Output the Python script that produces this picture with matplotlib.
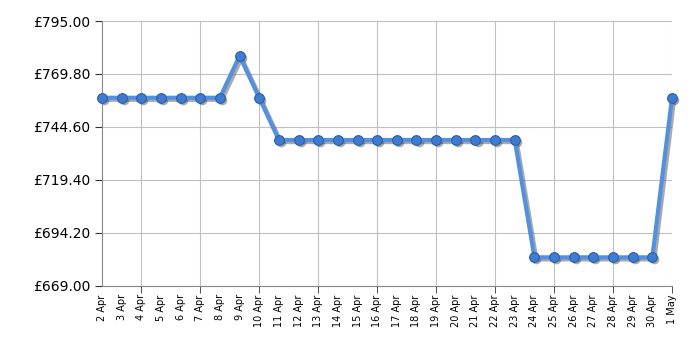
import matplotlib.pyplot as plt
import matplotlib.patheffects as pe
import matplotlib.transforms as mtransforms

# price history
dates = ['2 Apr', '3 Apr', '4 Apr', '5 Apr', '6 Apr', '7 Apr', '8 Apr', '9 Apr',
         '10 Apr', '11 Apr', '12 Apr', '13 Apr', '14 Apr', '15 Apr', '16 Apr',
         '17 Apr', '18 Apr', '19 Apr', '20 Apr', '21 Apr', '22 Apr', '23 Apr',
         '24 Apr', '25 Apr', '26 Apr', '27 Apr', '28 Apr', '29 Apr', '30 Apr', '1 May']
prices = [758.5, 758.5, 758.5, 758.5, 758.5, 758.5, 758.5, 778.4,
          758.5, 738.4, 738.4, 738.4, 738.4, 738.4, 738.4,
          738.4, 738.4, 738.4, 738.4, 738.4, 738.4, 738.4,
          682.6, 682.6, 682.6, 682.6, 682.6, 682.6, 682.6, 758.5]
y_ticks = [669.00, 694.20, 719.40, 744.60, 769.80, 795.00]

fig = plt.figure(figsize=(7, 3.5), dpi=100)
ax = fig.add_axes([0.1457, 0.183, 0.8143, 0.757])
ax.set_axisbelow(True)

x = list(range(len(dates)))

# soft shadow below-right of the line and markers
shadow_tr = mtransforms.offset_copy(ax.transData, fig=fig, x=1.5, y=-1.5, units='points')
ax.plot(x, prices, color='#444444', alpha=0.45, linewidth=3, marker='o', markersize=7,
        markeredgewidth=0, transform=shadow_tr, zorder=2, clip_on=False)
ax.plot(x, prices, color='#5590e0', linewidth=3, zorder=3, clip_on=False)
ax.plot(x, prices, linestyle='none', marker='o', markersize=7, markerfacecolor='#3f7bd0',
        markeredgecolor='#2a5ea8', markeredgewidth=0.8, zorder=4, clip_on=False)

ax.set_xlim(0, len(dates) - 1)
ax.set_ylim(y_ticks[0], y_ticks[-1])

# every day labelled, grid/tick every third day counted back from the end
ax.xaxis.remove_overlapping_locs = False
ax.set_xticks(x)
ax.set_xticklabels(dates, rotation=90, fontsize=7)
ax.tick_params(axis='x', which='major', length=0, pad=6)
grid_x = [i for i in x if (len(dates) - 1 - i) % 3 == 0]
ax.set_xticks(grid_x, minor=True)
ax.tick_params(axis='x', which='minor', length=5, color='#333333')
ax.grid(True, axis='x', which='minor', color='#c0c0c0', linewidth=0.8)

ax.set_yticks(y_ticks)
ax.set_yticklabels([f'£{v:.2f}' for v in y_ticks], fontsize=10)
ax.tick_params(axis='y', length=5, color='#333333')
ax.grid(True, axis='y', color='#c0c0c0', linewidth=0.8)

for side in ['top', 'right']:
    ax.spines[side].set_visible(False)
for side in ['left', 'bottom']:
    ax.spines[side].set_color('#888888')

fig.savefig('out.png', dpi=100)
